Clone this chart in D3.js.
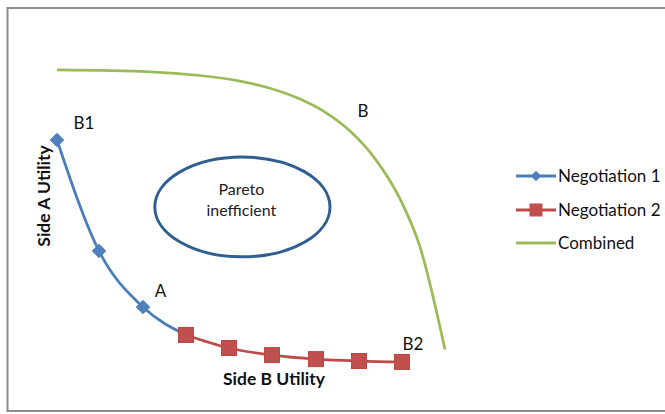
<!DOCTYPE html>
<html><head><meta charset="utf-8">
<script src="https://cdn.jsdelivr.net/npm/d3@7"></script>
<style>html,body{margin:0;padding:0;background:#fff;}svg{display:block;font-family:Lato,"Open Sans",sans-serif;}</style>
</head><body>
<script>
// Data (Side B utility x, Side A utility y)
const negotiation1X = [1.75, 12.25, 23.25, 34];
const negotiation1Y = [74.2, 38.4, 20.3, 11.3];
const negotiation1Markers = [true, true, true, false];
const negotiation2X = [34, 44.75, 55.5, 66.5, 77.25, 88];
const negotiation2Y = [11.3, 7.1, 4.8, 3.5, 2.9, 2.6];
const combinedX = [1.75, 25, 37.5, 47.5, 55, 62.5, 68.75, 75, 81.25, 87.5, 92.5, 98.75];
const combinedY = [96.8, 96.2, 95.0, 93.2, 90.9, 87.4, 83.2, 77.1, 68.2, 55.2, 39.7, 6.6];
const seriesNames = ["Negotiation 1", "Negotiation 2", "Combined"];
const pointLabels = ["B1", "A", "B", "B2"];
const pointLabelX = [8.5, 27.6, 78.25, 90.75];
const pointLabelY = [77.7, 23.5, 81.6, 6.5];
const regionCenter = [48.1, 52.6];
const regionRadii = [21.9, 16.1];
const regionText = ["Pareto", "inefficient"];
const xTitle = "Side B Utility";
const yTitle = "Side A Utility";

const W = 665, H = 414;
const svg = d3.select("body").append("svg").attr("width", W).attr("height", H);
svg.append("rect").attr("width", W).attr("height", H).attr("fill", "#fff");
// frame
svg.append("rect").attr("x", 7.5).attr("y", 8).attr("width", 700).attr("height", 403)
  .attr("fill", "none").attr("stroke", "#8c8c8c").attr("stroke-width", 2);

const x = d3.scaleLinear().domain([0, 100]).range([50, 450]);
const y = d3.scaleLinear().domain([0, 100]).range([370, 60]);

const blue = "#4A7EBB", red = "#BE4B48", green = "#9BBB59";
const line = d3.line().x(d => x(d[0])).y(d => y(d[1])).curve(d3.curveMonotoneX);

const n1 = negotiation1X.map((v, i) => [v, negotiation1Y[i]]);
const n2 = negotiation2X.map((v, i) => [v, negotiation2Y[i]]);
const cb = combinedX.map((v, i) => [v, combinedY[i]]);

// ellipse
const ecx = x(regionCenter[0]), ecy = y(regionCenter[1]);
svg.append("ellipse").attr("cx", ecx).attr("cy", ecy)
  .attr("rx", x(regionRadii[0]) - x(0)).attr("ry", y(0) - y(regionRadii[1]))
  .attr("fill", "none").attr("stroke", "#2F5F91").attr("stroke-width", 3);
regionText.forEach((t, i) => {
  svg.append("text").attr("x", ecx - 1).attr("y", ecy - 12 + i * 21)
    .attr("text-anchor", "middle").attr("font-size", 16).attr("fill", "#222").text(t);
});

svg.append("path").datum(cb).attr("d", line).attr("fill", "none").attr("stroke", green).attr("stroke-width", 2.75);
svg.append("path").datum(n1).attr("d", line).attr("fill", "none").attr("stroke", blue).attr("stroke-width", 2.75);
svg.append("path").datum(n2).attr("d", line).attr("fill", "none").attr("stroke", red).attr("stroke-width", 2.75);

const diamond = d3.symbol().type(d3.symbolDiamond2).size(115);
svg.selectAll(".d").data(n1.filter((d, i) => negotiation1Markers[i])).enter().append("path")
  .attr("d", diamond).attr("transform", d => `translate(${x(d[0])},${y(d[1])})`)
  .attr("fill", "#4F81BD").attr("stroke", blue).attr("stroke-width", 1);
svg.selectAll(".s").data(n2).enter().append("rect")
  .attr("x", d => x(d[0]) - 7.5).attr("y", d => y(d[1]) - 7.5).attr("width", 15).attr("height", 15)
  .attr("fill", "#C0504D").attr("stroke", "#B84643").attr("stroke-width", 1);

pointLabels.forEach((t, i) => {
  svg.append("text").attr("x", x(pointLabelX[i])).attr("y", y(pointLabelY[i]))
    .attr("text-anchor", "middle").attr("font-size", 17).attr("fill", "#111").text(t);
});

svg.append("text").attr("x", 274).attr("y", 385).attr("text-anchor", "middle")
  .attr("font-size", 17.5).attr("font-weight", "bold").attr("fill", "#111").text(xTitle);
svg.append("text").attr("transform", "translate(50,196) rotate(-90)").attr("text-anchor", "middle")
  .attr("font-size", 17.5).attr("font-weight", "bold").attr("fill", "#111").text(yTitle);

// legend
const legY = [176, 210, 243];
const legColors = [blue, red, green];
seriesNames.forEach((n, i) => {
  const g = svg.append("g").attr("transform", `translate(0,${legY[i]})`);
  g.append("line").attr("x1", 516).attr("x2", 556).attr("y1", 0).attr("y2", 0)
    .attr("stroke", legColors[i]).attr("stroke-width", 3);
  if (i === 0) g.append("path").attr("d", d3.symbol().type(d3.symbolDiamond2).size(70)).attr("transform", "translate(536,0)").attr("fill", "#4F81BD");
  if (i === 1) g.append("rect").attr("x", 529.5).attr("y", -6.5).attr("width", 13).attr("height", 13).attr("fill", "#C0504D");
  g.append("text").attr("x", 558).attr("y", 6).attr("font-size", 17).attr("fill", "#111").text(n);
});
</script>
</body></html>
